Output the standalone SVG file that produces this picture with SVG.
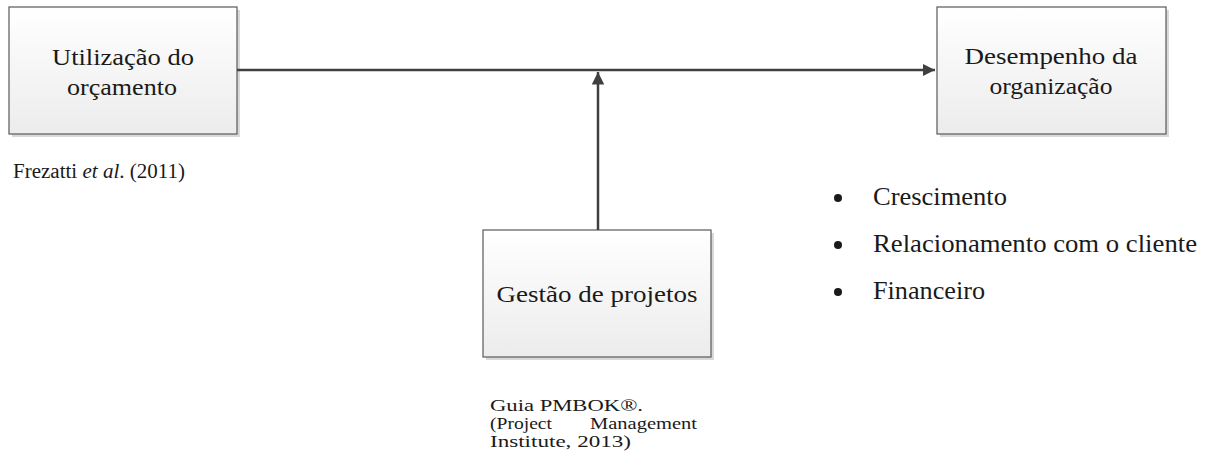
<svg xmlns="http://www.w3.org/2000/svg" width="1206" height="464" viewBox="0 0 1206 464">
<defs>
<linearGradient id="g" x1="0" y1="0" x2="0" y2="1"><stop offset="0" stop-color="#ffffff"/><stop offset="1" stop-color="#ececec"/></linearGradient>
<marker id="ah" viewBox="0 0 10 10" refX="10" refY="5" markerWidth="5" markerHeight="5" markerUnits="strokeWidth" orient="auto"><path d="M0,0 L10,5 L0,10 z" fill="#404040"/></marker>
</defs>
<style>
.box{fill:url(#g);stroke:#595959;stroke-width:1.2}
.sh{fill:#d9d9d9}
.t{fill:#1a1a1a}
.bx{font-size:24px;text-anchor:middle}
.sm{font-size:20px}
.pm{font-size:16.5px}
.bl{font-size:25px}
.c{stroke:#404040;stroke-width:2.5;fill:none}
</style>
<rect width="1206" height="464" fill="#ffffff"/>
<g id="n1" font-family="Liberation Serif, DejaVu Serif, serif">
<rect class="sh" x="12" y="10" width="228" height="127"/>
<rect class="box" x="9" y="7" width="228" height="127"/>
<text class="t bx" x="123" y="65" textLength="142" lengthAdjust="spacingAndGlyphs">Utilização do</text>
<text class="t bx" x="122" y="95" textLength="110" lengthAdjust="spacingAndGlyphs">orçamento</text>
</g>
<g id="n2" font-family="Liberation Serif, DejaVu Serif, serif">
<rect class="sh" x="940" y="10" width="229" height="127"/>
<rect class="box" x="937" y="7" width="229" height="127"/>
<text class="t bx" x="1051" y="64" textLength="173" lengthAdjust="spacingAndGlyphs">Desempenho da</text>
<text class="t bx" x="1051" y="94" textLength="123" lengthAdjust="spacingAndGlyphs">organização</text>
</g>
<g id="n3" font-family="Liberation Serif, DejaVu Serif, serif">
<rect class="sh" x="486" y="233" width="228" height="127"/>
<rect class="box" x="483" y="230" width="228" height="127"/>
<text class="t bx" x="597" y="302" textLength="201" lengthAdjust="spacingAndGlyphs">Gestão de projetos</text>
</g>
<g id="connectors">
<line class="c" x1="237" y1="70" x2="935" y2="70" marker-end="url(#ah)"/>
<line class="c" x1="598" y1="230" x2="598" y2="72" marker-end="url(#ah)"/>
</g>
<g id="labels" font-family="Liberation Serif, DejaVu Serif, serif">
<text class="t sm" x="13" y="178" textLength="172" lengthAdjust="spacingAndGlyphs">Frezatti <tspan font-style="italic">et al</tspan>. (2011)</text>
<text class="t pm" x="490" y="411" textLength="153" lengthAdjust="spacingAndGlyphs">Guia PMBOK®.</text>
<text class="t pm" x="490" y="429" textLength="62" lengthAdjust="spacingAndGlyphs">(Project</text>
<text class="t pm" x="697" y="429" text-anchor="end" textLength="107" lengthAdjust="spacingAndGlyphs">Management</text>
<text class="t pm" x="490" y="447" textLength="141" lengthAdjust="spacingAndGlyphs">Institute, 2013)</text>
<circle cx="838" cy="198" r="4" fill="#1a1a1a"/>
<circle cx="838" cy="245" r="4" fill="#1a1a1a"/>
<circle cx="838" cy="292" r="4" fill="#1a1a1a"/>
<text class="t bl" x="873" y="205" textLength="134" lengthAdjust="spacingAndGlyphs">Crescimento</text>
<text class="t bl" x="873" y="252" textLength="324" lengthAdjust="spacingAndGlyphs">Relacionamento com o cliente</text>
<text class="t bl" x="873" y="299" textLength="112" lengthAdjust="spacingAndGlyphs">Financeiro</text>
</g>
</svg>
